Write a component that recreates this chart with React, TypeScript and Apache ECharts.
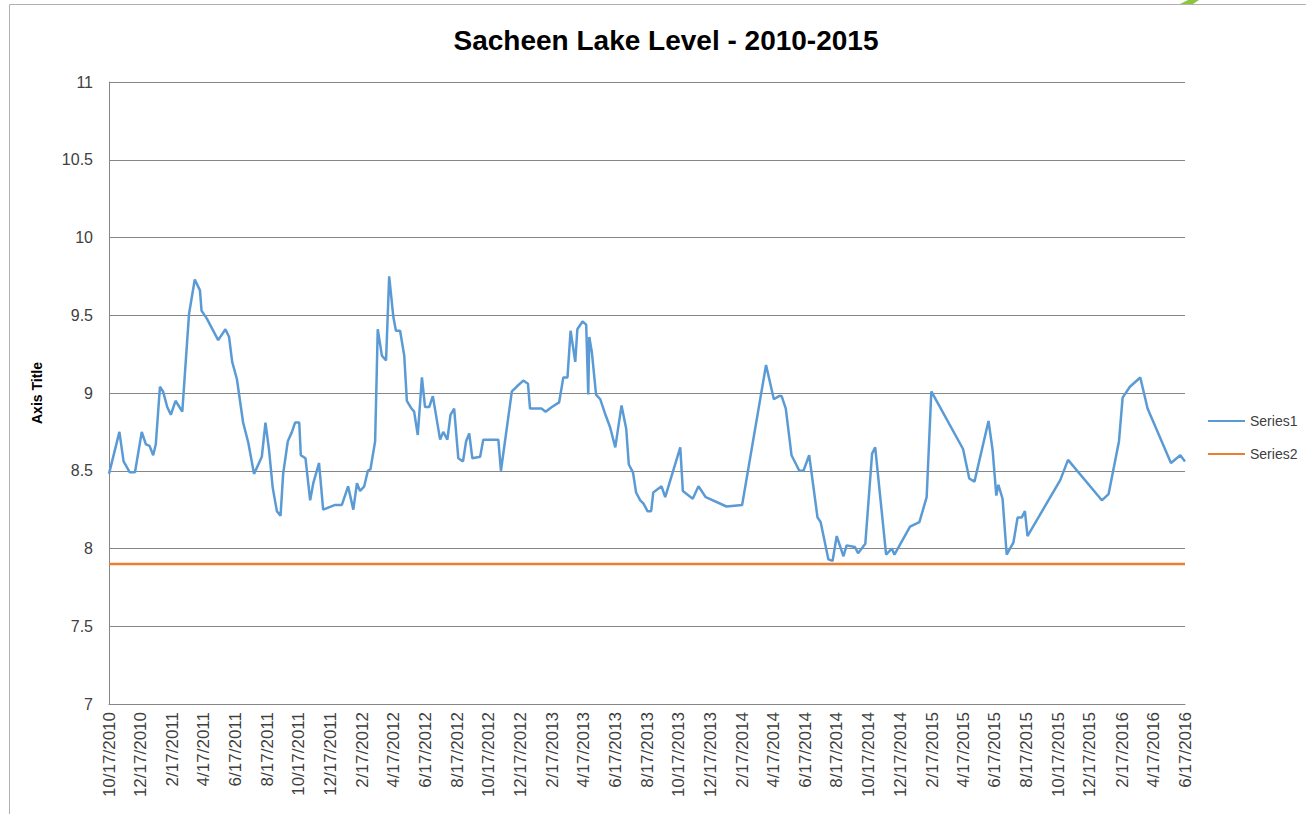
import React, { useEffect, useRef } from "react";
import * as echarts from "echarts";

const chartTitle = "Sacheen Lake Level - 2010-2015";
const yAxisTitle = "Axis Title";
const axisStart = "2010-10-17";
const axisEnd = "2016-06-17";

const tickLabels = [
  "10/17/2010", "12/17/2010",
  "2/17/2011", "4/17/2011", "6/17/2011", "8/17/2011", "10/17/2011", "12/17/2011",
  "2/17/2012", "4/17/2012", "6/17/2012", "8/17/2012", "10/17/2012", "12/17/2012",
  "2/17/2013", "4/17/2013", "6/17/2013", "8/17/2013", "10/17/2013", "12/17/2013",
  "2/17/2014", "4/17/2014", "6/17/2014", "8/17/2014", "10/17/2014", "12/17/2014",
  "2/17/2015", "4/17/2015", "6/17/2015", "8/17/2015", "10/17/2015", "12/17/2015",
  "2/17/2016", "4/17/2016", "6/17/2016",
];

const series1Dates = [
  "2010-10-17", "2010-11-06", "2010-11-14", "2010-11-26", "2010-12-06", "2010-12-19", "2010-12-27",
  "2011-01-03", "2011-01-10", "2011-01-15", "2011-01-23", "2011-01-29", "2011-02-06", "2011-02-13",
  "2011-02-22", "2011-03-07", "2011-03-20", "2011-03-31", "2011-04-10", "2011-04-13", "2011-04-23",
  "2011-05-15", "2011-05-29", "2011-06-05", "2011-06-11", "2011-06-20", "2011-07-02", "2011-07-12",
  "2011-07-23", "2011-08-07", "2011-08-14", "2011-08-21", "2011-08-28", "2011-09-05", "2011-09-12",
  "2011-09-17", "2011-09-26", "2011-10-04", "2011-10-10", "2011-10-18", "2011-10-21", "2011-10-30",
  "2011-11-08", "2011-11-14", "2011-11-25", "2011-12-03", "2011-12-26", "2012-01-08", "2012-01-20",
  "2012-01-30", "2012-02-06", "2012-02-12", "2012-02-20", "2012-02-27", "2012-03-03", "2012-03-12",
  "2012-03-17", "2012-03-25", "2012-04-02", "2012-04-08", "2012-04-16", "2012-04-21", "2012-04-29",
  "2012-05-07", "2012-05-12", "2012-05-21", "2012-05-26", "2012-06-02", "2012-06-10", "2012-06-16",
  "2012-06-24", "2012-07-01", "2012-07-15", "2012-07-21", "2012-07-29", "2012-08-04", "2012-08-11",
  "2012-08-19", "2012-08-28", "2012-09-03", "2012-09-09", "2012-09-15", "2012-09-30", "2012-10-06",
  "2012-11-04", "2012-11-09", "2012-11-30", "2012-12-09", "2012-12-22", "2012-12-31", "2013-01-04",
  "2013-01-26", "2013-02-03", "2013-02-15", "2013-03-01", "2013-03-09", "2013-03-17", "2013-03-23",
  "2013-04-01", "2013-04-05", "2013-04-15", "2013-04-22", "2013-04-26", "2013-04-28", "2013-05-03",
  "2013-05-11", "2013-05-19", "2013-05-28", "2013-06-07", "2013-06-17", "2013-06-29", "2013-07-08",
  "2013-07-13", "2013-07-21", "2013-07-27", "2013-08-04", "2013-08-10", "2013-08-18", "2013-08-25",
  "2013-08-29", "2013-09-14", "2013-09-21", "2013-10-20", "2013-10-25", "2013-11-13", "2013-11-24",
  "2013-12-08", "2014-01-17", "2014-02-16", "2014-04-03", "2014-04-18", "2014-04-28", "2014-05-03",
  "2014-05-11", "2014-05-22", "2014-06-06", "2014-06-14", "2014-06-25", "2014-07-11", "2014-07-17",
  "2014-08-01", "2014-08-09", "2014-08-17", "2014-08-30", "2014-09-05", "2014-09-21", "2014-09-27",
  "2014-10-11", "2014-10-24", "2014-10-30", "2014-11-20", "2014-12-01", "2014-12-06", "2015-01-05",
  "2015-01-23", "2015-02-06", "2015-02-15", "2015-04-17", "2015-04-29", "2015-05-09", "2015-06-05",
  "2015-06-13", "2015-06-20", "2015-06-24", "2015-07-02", "2015-07-10", "2015-07-23", "2015-07-31",
  "2015-08-08", "2015-08-14", "2015-08-19", "2015-10-21", "2015-11-05", "2016-01-09", "2016-01-22",
  "2016-02-11", "2016-02-18", "2016-03-03", "2016-03-23", "2016-04-06", "2016-05-21", "2016-06-08",
  "2016-06-17",
];

const series1Values = [
  8.48, 8.75, 8.56, 8.49, 8.49, 8.75, 8.67,
  8.66, 8.6, 8.67, 9.04, 9.01, 8.91, 8.86,
  8.95, 8.88, 9.51, 9.73, 9.66, 9.53, 9.48,
  9.34, 9.41, 9.36, 9.2, 9.09, 8.81, 8.68,
  8.48, 8.59, 8.81, 8.63, 8.39, 8.24, 8.21,
  8.48, 8.69, 8.75, 8.81, 8.81, 8.6, 8.58,
  8.31, 8.42, 8.55, 8.25, 8.28, 8.28, 8.4,
  8.25, 8.42, 8.37, 8.4, 8.5, 8.51, 8.69,
  9.41, 9.24, 9.21, 9.75, 9.49, 9.4, 9.4,
  9.24, 8.95, 8.9, 8.88, 8.73, 9.1, 8.91,
  8.91, 8.98, 8.7, 8.75, 8.7, 8.86, 8.9,
  8.58, 8.56, 8.69, 8.74, 8.58, 8.59, 8.7,
  8.7, 8.5, 9.01, 9.04, 9.08, 9.06, 8.9,
  8.9, 8.88, 8.91, 8.94, 9.1, 9.1, 9.4,
  9.2, 9.41, 9.46, 9.44, 8.99, 9.36, 9.26,
  8.99, 8.96, 8.87, 8.78, 8.65, 8.92, 8.77,
  8.54, 8.49, 8.36, 8.31, 8.29, 8.24, 8.24,
  8.36, 8.4, 8.33, 8.65, 8.37, 8.32, 8.4,
  8.33, 8.27, 8.28, 9.18, 8.96, 8.98, 8.98,
  8.9, 8.6, 8.5, 8.5, 8.6, 8.2, 8.17,
  7.93, 7.92, 8.08, 7.95, 8.02, 8.01, 7.97,
  8.03, 8.61, 8.65, 7.96, 8.0, 7.96, 8.14,
  8.17, 8.33, 9.01, 8.64, 8.45, 8.43, 8.82,
  8.63, 8.34, 8.41, 8.32, 7.96, 8.04, 8.2,
  8.2, 8.24, 8.08, 8.44, 8.57, 8.31, 8.35,
  8.69, 8.97, 9.04, 9.1, 8.9, 8.55, 8.6,
  8.56,
];

const series2Level = 7.9;

const yMin = 7;
const yMax = 11;
const yStep = 0.5;

const DAY = 86400000;
function parseISO(s: string): number {
  const [y, m, d] = s.split("-").map(Number);
  return Date.UTC(y, m - 1, d);
}
function fmtMDY(t: number): string {
  const dt = new Date(t);
  return `${dt.getUTCMonth() + 1}/${dt.getUTCDate()}/${dt.getUTCFullYear()}`;
}

export default function App() {
  const ref = useRef<HTMLDivElement>(null);

  useEffect(() => {
    document.body.style.margin = "0";
    if (!ref.current) return;
    const chart = echarts.init(ref.current, undefined, { renderer: "svg" });

    const t0 = parseISO(axisStart);
    const t1 = parseISO(axisEnd);
    const categories: string[] = [];
    for (let t = t0; t <= t1; t += DAY) categories.push(fmtMDY(t));
    const labelSet = new Set(tickLabels);
    const idx = (s: string) => Math.round((parseISO(s) - t0) / DAY);

    const s1 = series1Dates.map((d, i) => [idx(d), series1Values[i]]);
    const s2 = series1Dates.map((d) => [idx(d), series2Level]);

    const font = '"Liberation Sans", Arial, sans-serif';

    chart.setOption({
      animation: false,
      backgroundColor: "#ffffff",
      grid: {
        left: 109,
        right: 121,
        top: 82,
        bottom: 110,
        containLabel: false,
        outerBoundsMode: "none",
      },
      xAxis: {
        type: "category",
        data: categories,
        boundaryGap: false,
        axisLine: { show: true, lineStyle: { color: "#868686", width: 1 } },
        axisTick: { show: false },
        splitLine: { show: false },
        axisLabel: {
          interval: (_i: number, v: string) => labelSet.has(v),
          rotate: 90,
          margin: 8,
          color: "#404040",
          fontSize: 17,
          fontFamily: font,
          padding: [5, 0, 0, 0],
        },
      },
      yAxis: {
        type: "value",
        min: yMin,
        max: yMax,
        interval: yStep,
        name: yAxisTitle,
        nameLocation: "middle",
        nameGap: 65,
        nameRotate: 90,
        nameTextStyle: {
          fontWeight: "bold",
          fontSize: 14,
          color: "#000000",
          fontFamily: font,
        },
        axisLine: { show: true, lineStyle: { color: "#868686", width: 1 } },
        axisTick: { show: false },
        splitLine: { show: true, lineStyle: { color: "#868686", width: 1 } },
        axisLabel: {
          margin: 16,
          color: "#404040",
          fontSize: 16,
          fontFamily: font,
        },
      },
      legend: {
        orient: "vertical",
        left: 1208,
        top: 414,
        padding: 0,
        itemWidth: 37,
        itemHeight: 14,
        itemGap: 19,
        icon: "path://M0,6 L37,6 L37,8 L0,8 Z",
        textStyle: { fontSize: 14, color: "#404040", fontFamily: font },
        data: ["Series1", "Series2"],
      },
      series: [
        {
          name: "Series1",
          type: "line",
          data: s1,
          symbol: "none",
          showSymbol: false,
          lineStyle: { color: "#5b9bd5", width: 2.5 },
          itemStyle: { color: "#5b9bd5" },
          z: 3,
        },
        {
          name: "Series2",
          type: "line",
          data: s2,
          symbol: "none",
          showSymbol: false,
          lineStyle: { color: "#ed7d31", width: 2.5 },
          itemStyle: { color: "#ed7d31" },
          z: 2,
        },
      ],
      graphic: [
        {
          type: "rect",
          shape: { x: 9.5, y: 4.5, width: 1400, height: 900 },
          style: { fill: "none", stroke: "#b0b0b0", lineWidth: 1 },
          silent: true,
        },
        {
          type: "polygon",
          shape: { points: [[1180, 4], [1193, 4], [1199, 0], [1188, 0]] },
          style: { fill: "#8cc63e" },
          silent: true,
        },
        {
          type: "text",
          x: 666,
          y: 40,
          style: {
            text: chartTitle,
            font: `bold 28px ${font}`,
            fill: "#000000",
            align: "center",
            verticalAlign: "middle",
          },
        },
      ],
    });

    return () => chart.dispose();
  }, []);

  return <div ref={ref} style={{ width: 1306, height: 814 }} />;
}
